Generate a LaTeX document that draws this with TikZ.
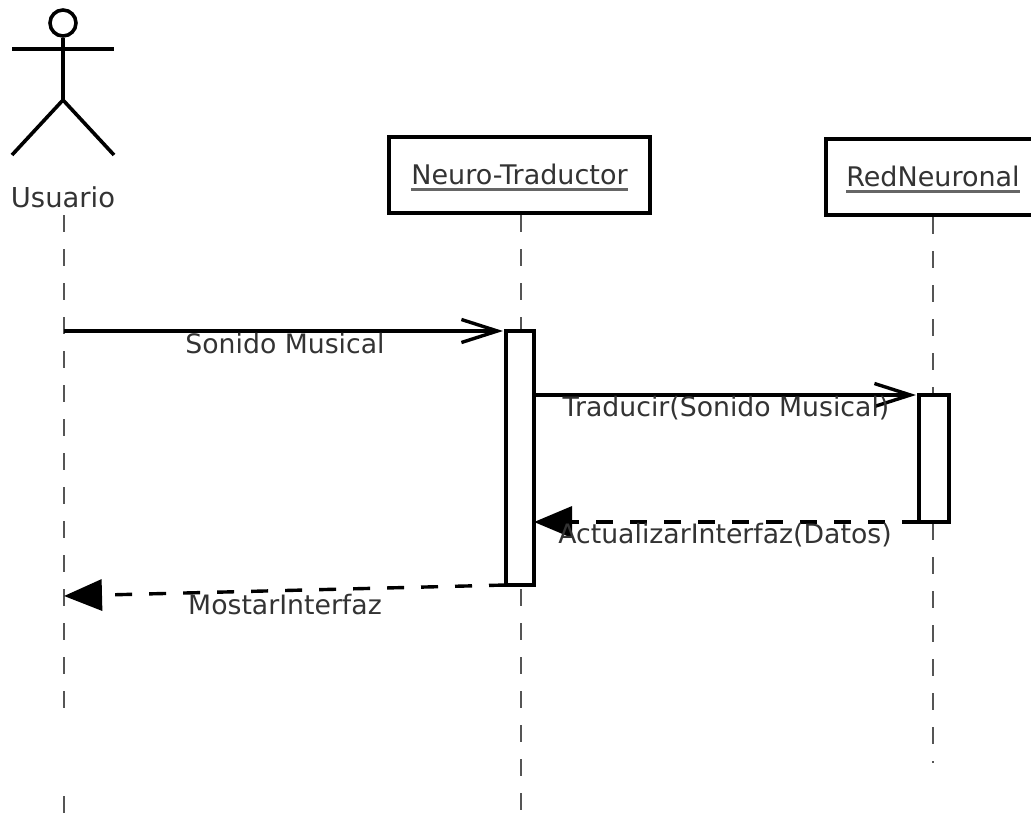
\documentclass[tikz,border=0pt]{standalone}
\usepackage{fontspec}
\setmainfont{DejaVu Sans}
\usetikzlibrary{arrows.meta,calc}
\definecolor{seqink}{HTML}{000000}
\definecolor{seqtxt}{HTML}{333333}
\definecolor{seqlife}{HTML}{555555}
\definecolor{sequl}{HTML}{666666}
\newcommand{\objname}[1]{\setbox0\hbox{#1}\raisebox{1pt}{\rlap{\smash{\raisebox{-6.5pt}{\textcolor{sequl}{\rule{\wd0}{2.8pt}}}}}\box0}}
\tikzset{
  obj/.style={draw=seqink, line width=4pt, fill=white, minimum height=76pt, inner sep=0pt, font=\fontsize{27}{32}\selectfont, text=seqtxt},
  act/.style={draw=seqink, line width=3.6pt, fill=white, inner sep=0pt, outer sep=0pt},
  life/.style={draw=seqlife, line width=2.8pt, dash pattern=on 17pt off 17pt},
  stick/.style={draw=seqink, line width=3.6pt},
  call/.style={-{Straight Barb[length=36pt,width=23pt,line width=3.4pt]}, draw=seqink, line width=3.4pt, shorten >=3pt},
  back/.style={-{Triangle[length=38pt,width=31pt]}, draw=seqink, line width=3.4pt, dash pattern=on 17pt off 17pt},
  lbl/.style={font=\fontsize{26.7}{30}\selectfont, text=seqtxt, inner sep=0pt},
}
\begin{document}
\begin{tikzpicture}[x=1pt, y=-1pt]
    \useasboundingbox (0,0) rectangle (1031,827);
    % actor
    \node[draw=seqink, line width=3.6pt, circle, minimum size=26pt, inner sep=0pt] (head) at (63,23) {};
    \coordinate (hip) at (63,100);
    \coordinate (armL) at (12,49);
    \coordinate (armR) at (114,49);
    \coordinate (legL) at (12,155);
    \coordinate (legR) at (114,155);
    \draw[stick] (head.south) -- (hip);
    \draw[stick] (armL) -- (armR);
    \draw[stick] (legL) -- (hip) -- (legR);
    \node[lbl, font=\fontsize{27.4}{30}\selectfont] (usuario) at (63,197) {Usuario};
    % objects
    \node[obj, minimum width=261pt] (traductor) at (519.5,175) {\objname{Neuro-Traductor}};
    \node[obj, minimum width=214pt] (red) at (933,177) {\objname{RedNeuronal}};
    % lifelines
    \coordinate (usuarioA) at (64,215);
    \coordinate (usuarioB) at (64,712);
    \coordinate (usuarioC) at (64,796);
    \coordinate (usuarioD) at (64,814);
    \coordinate (traductorEnd) at (521,828);
    \coordinate (redEnd) at (933,763);
    \draw[life] (usuarioA) -- (usuarioB);
    \draw[life] (usuarioC) -- (usuarioD);
    \draw[life] (521,215) -- (traductorEnd);
    \draw[life] (933,217) -- (redEnd);
    % activations
    \node[act, minimum width=28pt, minimum height=254pt] (act1) at (520,458) {};
    \node[act, minimum width=30pt, minimum height=127pt] (act2) at (934,458.5) {};
    % messages
    \coordinate (msgIn) at (64,331);
    \coordinate (msgOut) at (64,596);
    \draw[call] (msgIn) -- (act1.north west);
    \draw[call] (act1.east |- act2.north) -- (act2.north west);
    \draw[back] (act2.south west) -- (act1.east |- act2.south);
    \draw[back] (act1.south west) -- (msgOut);
    \foreach \nm/\px/\py/\tx in {sonido/285/344/{Sonido Musical}, traducir/726/408/{Traducir(Sonido Musical)}, actualizar/725/535/{ActualizarInterfaz(Datos)}, mostrar/285/605/{MostarInterfaz}}
      { \node[lbl] (\nm) at (\px,\py) {\tx}; }
  \end{tikzpicture}
\end{document}
